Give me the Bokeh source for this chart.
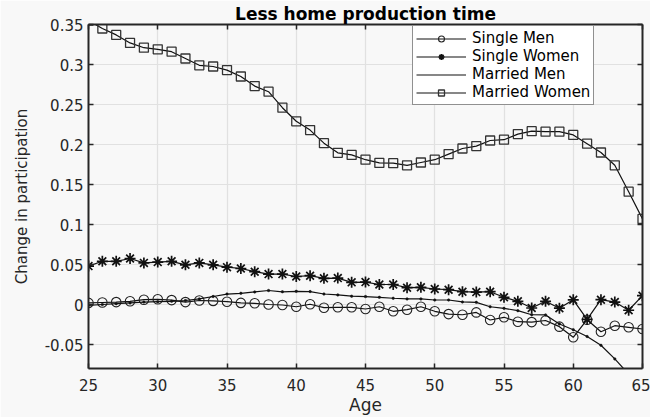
from bokeh.plotting import figure
from bokeh.models import Range1d, LinearAxis, FixedTicker, Legend
from bokeh.embed import file_html
from bokeh.resources import INLINE

ages = list(range(25, 66))

single_men = [0.002, 0.0025, 0.003, 0.004, 0.006, 0.0065, 0.0055, 0.003, 0.005, 0.0045,
              0.0035, 0.002, 0.0015, 0.0, -0.0006, -0.0028, 0.0003, -0.004, -0.0035, -0.0035,
              -0.0056, -0.0028, -0.0085, -0.0065, -0.0028, -0.0085, -0.012, -0.0128, -0.0099, -0.0194,
              -0.016, -0.0215, -0.022, -0.020, -0.0277, -0.041, -0.019, -0.034, -0.0265, -0.0285,
              -0.0306]
single_women = [0.048, 0.054, 0.054, 0.0575, 0.052, 0.053, 0.054, 0.0496, 0.052, 0.0496,
                0.0467, 0.045, 0.041, 0.038, 0.038, 0.035, 0.036, 0.0327, 0.033, 0.0277,
                0.028, 0.025, 0.025, 0.021, 0.0215, 0.0194, 0.0185, 0.016, 0.0155, 0.016,
                0.009, 0.004, -0.0044, 0.004, -0.0046, 0.0058, -0.0185, 0.006, 0.003, -0.0072,
                0.011]
married_men = [-0.001, 0.0, 0.001, 0.002, 0.003, 0.0035, 0.004, 0.005, 0.007, 0.010,
               0.013, 0.014, 0.0157, 0.0175, 0.0159, 0.0165, 0.0162, 0.0131, 0.012, 0.0104,
               0.0099, 0.009, 0.0078, 0.007, 0.007, 0.0056, 0.0056, 0.0032, 0.0027, -0.0028,
               -0.0048, -0.0077, -0.0128, -0.013, -0.0244, -0.0315, -0.040, -0.051, -0.068, -0.087,
               -0.105]
married_women = [0.355, 0.345, 0.337, 0.327, 0.321, 0.319, 0.316, 0.3075, 0.299, 0.2975,
                 0.293, 0.285, 0.273, 0.266, 0.246, 0.229, 0.218, 0.2017, 0.1896, 0.187,
                 0.181, 0.177, 0.1767, 0.174, 0.1775, 0.181, 0.188, 0.195, 0.198, 0.205,
                 0.206, 0.213, 0.2167, 0.216, 0.216, 0.212, 0.201, 0.19, 0.174, 0.141,
                 0.107]

x_ticks = [25, 30, 35, 40, 45, 50, 55, 60, 65]
y_ticks = [-0.05, 0.0, 0.05, 0.1, 0.15, 0.2, 0.25, 0.3, 0.35]
y_tick_labels = ["-0.05", "0", "0.05", "0.1", "0.15", "0.2", "0.25", "0.3", "0.35"]

FONT = "DejaVu Sans"
INK = "#262626"
LINE = "#111111"
BG = "#f8f8f8"

p = figure(width=650, height=417, output_backend="svg", toolbar_location=None,
           x_range=Range1d(25, 65), y_range=Range1d(-0.08, 0.35),
           min_border_left=88, min_border_right=8, min_border_top=24, min_border_bottom=44,
           title="Less home production time")
p.background_fill_color = BG
p.border_fill_color = BG
p.outline_line_color = None

p.title.text_font = FONT
p.title.text_font_size = "17px"
p.title.text_font_style = "bold"
p.title.align = "center"
p.title.text_color = "#000000"
p.title.standoff = 2

for ax in [p.xaxis[0], p.yaxis[0]]:
    ax.major_label_text_font = FONT
    ax.major_label_text_font_size = "15px"
    ax.major_label_text_color = INK
    ax.axis_label_text_font = FONT
    ax.axis_label_text_font_style = "normal"
    ax.axis_label_text_color = INK
    ax.axis_line_color = INK
    ax.axis_line_width = 2
    ax.major_tick_line_color = INK
    ax.major_tick_line_width = 1.5
    ax.major_tick_in = 5
    ax.major_tick_out = 0
    ax.minor_tick_line_color = None

p.xaxis.ticker = FixedTicker(ticks=x_ticks)
p.yaxis.ticker = FixedTicker(ticks=y_ticks)
p.yaxis.major_label_overrides = {t: s for t, s in zip(y_ticks, y_tick_labels)}
p.xaxis.axis_label = "Age"
p.xaxis.axis_label_text_font_size = "17px"
p.xaxis.major_label_standoff = 10
p.xaxis.axis_label_standoff = 1
p.yaxis.axis_label = "Change in participation"
p.yaxis.axis_label_text_font_size = "15px"
p.yaxis.major_label_standoff = 5
p.yaxis.axis_label_standoff = 11

def frame_axis():
    return dict(major_label_text_font_size="1px", major_label_text_color=None,
                major_label_standoff=0, axis_line_color=INK, axis_line_width=2,
                major_tick_line_color=INK, major_tick_line_width=1.5,
                major_tick_in=5, major_tick_out=0, minor_tick_line_color=None)

top = LinearAxis(ticker=FixedTicker(ticks=x_ticks), **frame_axis())
right = LinearAxis(ticker=FixedTicker(ticks=y_ticks), **frame_axis())
p.add_layout(top, "above")
p.add_layout(right, "right")

p.xgrid.ticker = FixedTicker(ticks=x_ticks)
p.ygrid.ticker = FixedTicker(ticks=y_ticks)
p.grid.grid_line_color = "#e1e1e1"
p.grid.grid_line_width = 1.2

# Single Men
r1 = p.line(ages, single_men, line_color=LINE, line_width=1.2)
s1 = p.scatter(ages, single_men, marker="circle", size=9.5, fill_color=None,
               line_color="#222222", line_width=1.1)
# Single Women
r2 = p.line(ages, single_women, line_color=LINE, line_width=1.2)
s2 = p.scatter(ages, single_women, marker="asterisk", size=11, line_color="#111111",
               line_width=1.7)
# Married Men
r3 = p.line(ages, married_men, line_color=LINE, line_width=1.2)
s3 = p.scatter(ages, married_men, marker="circle", size=2.5, fill_color="#111111",
               line_color="#111111", line_width=0.5)
# Married Women
r4 = p.line(ages, married_women, line_color=LINE, line_width=1.2)
s4 = p.scatter(ages, married_women, marker="square", size=9, fill_color=None,
               line_color="#333333", line_width=1.3)

legend = Legend(items=[("Single Men", [r1, s1]), ("Single Women", [r2, s2]),
                       ("Married Men", [r3]), ("Married Women", [r4, s4])],
                location=(324, 263))
legend.label_text_font = FONT
legend.label_text_font_size = "15px"
legend.label_text_line_height = 1.0
legend.label_text_color = "#000000"
legend.glyph_width = 50
legend.glyph_height = 15
legend.label_height = 15
legend.label_standoff = 6
legend.spacing = 0
legend.padding = 3
legend.margin = 0
legend.border_line_color = "#222222"
legend.border_line_width = 1.2
legend.background_fill_color = "#ffffff"
legend.background_fill_alpha = 1.0
p.add_layout(legend, "center")

open("out.html", "w").write(file_html(p, INLINE))
